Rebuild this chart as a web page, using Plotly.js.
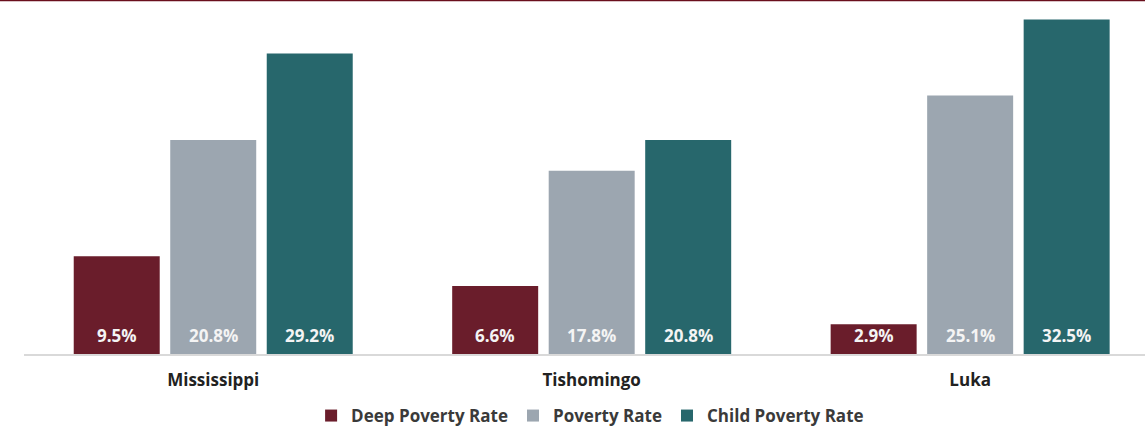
<!DOCTYPE html>
<html>
<head>
<meta charset="utf-8">
<script src="https://cdn.plot.ly/plotly-3.0.1.min.js"></script>
<style>html,body{margin:0;padding:0;background:#fff;overflow:hidden;}#chart{width:1145px;height:434px;}</style>
</head>
<body>
<div id="chart"></div>
<script>
const categories = ["Mississippi", "Tishomingo", "Luka"];
const seriesNames = ["Deep Poverty Rate", "Poverty Rate", "Child Poverty Rate"];
const deepPoverty = [9.5, 6.6, 2.9];
const poverty = [20.8, 17.8, 25.1];
const childPoverty = [29.2, 20.8, 32.5];

const seriesValues = [deepPoverty, poverty, childPoverty];
const colors = ["#6a1d2b", "#9ca6b0", "#27676c"];
const fontFam = "'Open Sans', Lato, sans-serif";

const traces = seriesValues.map((vals, i) => ({
  type: "bar",
  name: seriesNames[i],
  x: categories,
  y: vals,
  marker: {color: colors[i]},
  hoverinfo: "skip"
}));

const offsets = [-96.5, 0, 96.5];
const annotations = [];
seriesValues.forEach((vals, i) => {
  vals.forEach((v, j) => {
    annotations.push({
      x: categories[j], y: 0, xref: "x", yref: "y",
      text: v.toFixed(1) + "%",
      showarrow: false,
      xshift: offsets[i], yshift: 5,
      yanchor: "bottom",
      font: {family: fontFam, size: 17, color: "#f4f4f4", weight: "bold"}
    });
  });
});

const layout = {
  width: 1145, height: 434,
  margin: {l: 24, r: 0, t: 4, b: 80},
  paper_bgcolor: "#ffffff", plot_bgcolor: "#ffffff",
  barmode: "group", bargap: 0.235, bargroupgap: 0.109,
  showlegend: true,
  legend: {orientation: "h", x: 0.505, xanchor: "center", yref: "container", y: -0.018, yanchor: "bottom",
           font: {family: fontFam, size: 17, color: "#3a3a3a", weight: "bold"},
           traceorder: "normal", itemclick: false},
  xaxis: {range: [-0.5, 2.462], showline: true, linecolor: "#d9d9d9", linewidth: 1.5,
          ticks: "", showgrid: false, zeroline: false, ticklabelstandoff: 10,
          tickfont: {family: fontFam, size: 17, color: "#222222", weight: "bold"}},
  yaxis: {range: [0, 34], showgrid: false, zeroline: false, showticklabels: false, ticks: ""},
  annotations: annotations,
  shapes: [{type: "line", xref: "paper", yref: "paper", x0: -0.03, x1: 1.01, y0: 1.012, y1: 1.012,
            line: {color: "#6a0f1c", width: 3}}]
};

Plotly.newPlot("chart", traces, layout, {displayModeBar: false, staticPlot: true});
</script>
</body>
</html>
